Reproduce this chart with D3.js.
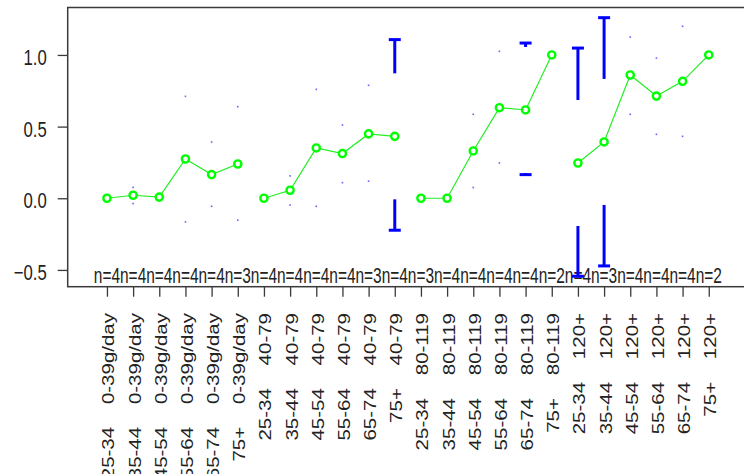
<!DOCTYPE html>
<html>
<head>
<meta charset="utf-8">
<script src="https://cdn.jsdelivr.net/npm/d3@7"></script>
<style>
  html, body { margin: 0; padding: 0; background: #fff; }
  svg { display: block; font-family: "Liberation Sans", Arial, sans-serif; }
  .xlab text { white-space: pre; }
</style>
</head>
<body>
<svg id="chart" width="744" height="474"></svg>
<script>
// Age bands within each consumption group
const ageGroups = ["25-34", "35-44", "45-54", "55-64", "65-74", "75+"];
// Consumption groups
const doseGroups = ["0-39g/day", "40-79", "80-119", "120+"];
// Category labels, one per plotted mean
const categories = doseGroups.flatMap(d => ageGroups.map(a => a + "    " + d));

// Group means
const means = [0.000, 0.021, 0.008, 0.274, 0.165, 0.239,
               0.000, 0.056, 0.351, 0.312, 0.449, 0.432,
               0.000, 0.000, 0.330, 0.632, 0.616, 1.000,
               0.246, 0.393, 0.860, 0.713, 0.816, 1.000];
// Upper confidence limits (null where not available)
const upper = [0.000, 0.076, 0.030, 0.711, 0.393, 0.639,
               0.000, 0.156, 0.760, 0.511, 0.788, 1.107,
               0.000, 0.000, 0.586, 1.025, 1.083, null,
               1.048, 1.260, 1.125, 0.978, 1.200, null];
// Lower confidence limits
const lower = [0.000, -0.037, -0.014, -0.165, -0.056, -0.153,
               0.000, -0.047, -0.056, 0.109, 0.119, -0.223,
               0.000, 0.000, 0.075, 0.246, 0.165, null,
               -0.544, -0.472, 0.586, 0.446, 0.432, null];
// Sample sizes
const nCounts = [4, 4, 4, 4, 4, 3,
                 4, 4, 4, 4, 3, 4,
                 3, 4, 4, 4, 4, 2,
                 4, 3, 4, 4, 4, 2];
// Y axis tick values
const yTicks = [-0.5, 0.0, 0.5, 1.0];

const svg = d3.select("#chart");
const box = { left: 67.7, top: 7.5, right: 748, bottom: 286.7 };

const x = d3.scaleLinear().domain([-0.5, 25.5]).range([box.left, box.right]);
const y = d3.scaleLinear().domain([-0.617, 1.331]).range([box.bottom, box.top]);

const ink = "#3a3a3a";

// Y axis
const yAxis = svg.append("g")
  .attr("transform", `translate(${box.left},0)`)
  .call(d3.axisLeft(y).tickValues(yTicks).tickSize(10).tickFormat(d3.format(".1f")));
yAxis.select(".domain").remove();
yAxis.selectAll("line").attr("stroke", ink).attr("stroke-width", 1.3);
yAxis.selectAll("text")
  .attr("x", 0).attr("dy", null)
  .attr("text-anchor", "end")
  .attr("transform", "translate(-21,9.4) scale(0.76,1)")
  .attr("font-size", 22)
  .attr("font-family", "Liberation Sans, Arial, sans-serif")
  .attr("fill", "#222");

// X axis with rotated category labels
const xAxis = svg.append("g")
  .attr("class", "xlab")
  .attr("transform", `translate(0,${box.bottom})`)
  .call(d3.axisBottom(x).tickValues(d3.range(1, 25)).tickSize(10)
        .tickFormat(d => categories[d - 1]));
xAxis.select(".domain").remove();
xAxis.selectAll("line").attr("stroke", ink).attr("stroke-width", 1.3);
xAxis.selectAll("text")
  .attr("x", 0).attr("y", 0).attr("dy", null)
  .attr("text-anchor", "end")
  .attr("transform", "translate(7,26.3) scale(0.8,1) rotate(-90)")
  .attr("font-size", 20.5)
  .attr("font-family", "Liberation Sans, Arial, sans-serif")
  .attr("fill", "#222");

// Sample size labels along the bottom of the plot
svg.append("g").selectAll("text")
  .data(nCounts)
  .join("text")
  .attr("transform", (d, i) => `translate(${x(i + 1)},283) scale(0.72,1)`)
  .attr("text-anchor", "middle")
  .attr("font-size", 21.5)
  .attr("fill", "#222")
  .text(d => "n=" + d);

// Confidence intervals: bars outside the gap around each mean, small marks otherwise
const gapPx = 63;
const ci = svg.append("g");
means.forEach((m, i) => {
  const u = upper[i], l = lower[i];
  if (u === null || l === null || u === l) return;
  const cx = x(i + 1), ym = y(m);
  [[u, -1], [l, 1]].forEach(([v, dir]) => {
    const yv = y(v);
    const inner = ym + dir * gapPx;
    if (Math.abs(yv - ym) > gapPx) {
      ci.append("line")
        .attr("x1", cx).attr("x2", cx)
        .attr("y1", inner).attr("y2", yv)
        .attr("stroke", "#0000ff").attr("stroke-width", 3);
      ci.append("line")
        .attr("x1", cx - 6).attr("x2", cx + 6)
        .attr("y1", yv).attr("y2", yv)
        .attr("stroke", "#0000ff").attr("stroke-width", 3);
    } else {
      ci.append("rect")
        .attr("x", cx - 0.8).attr("y", yv - 0.8)
        .attr("width", 1.6).attr("height", 1.6)
        .attr("fill", "#3333ff").attr("opacity", 0.75);
    }
  });
});

// Mean lines, one segment per consumption group
const line = d3.line().x(d => x(d.i + 1)).y(d => y(d.v));
const pts = means.map((v, i) => ({ v, i }));
doseGroups.forEach((g, gi) => {
  svg.append("path")
    .datum(pts.slice(gi * 6, gi * 6 + 6))
    .attr("d", line)
    .attr("fill", "none")
    .attr("stroke", "#22ee22")
    .attr("stroke-width", 1.2);
});

// Mean markers
svg.append("g").selectAll("circle")
  .data(pts)
  .join("circle")
  .attr("cx", d => x(d.i + 1))
  .attr("cy", d => y(d.v))
  .attr("r", 3.6)
  .attr("fill", "#fff")
  .attr("stroke", "#00ff00")
  .attr("stroke-width", 2.4);

// Plot frame
svg.append("rect")
  .attr("x", box.left).attr("y", box.top)
  .attr("width", box.right - box.left).attr("height", box.bottom - box.top)
  .attr("fill", "none")
  .attr("stroke", ink)
  .attr("stroke-width", 1.5);
</script>
</body>
</html>
